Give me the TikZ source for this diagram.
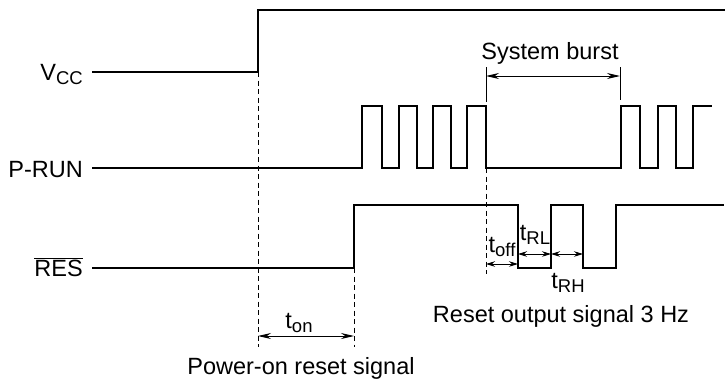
\documentclass[tikz,border=0pt]{standalone}
\usepackage{fontspec}
\setmainfont{Liberation Sans}
\usetikzlibrary{arrows.meta}
\newcommand\mysub[1]{\raisebox{-0.2em}{\fontsize{18.5}{18.5}\selectfont #1}}
\begin{document}
\begin{tikzpicture}[x=1pt,y=-1pt,
  wave/.style={line width=1.8pt, line join=miter},
  guide/.style={line width=0.8pt, dash pattern=on 5pt off 3.5pt},
  marker/.style={line width=1pt},
  dimbig/.style={line width=0.9pt, {Stealth[length=13pt,width=6pt]}-{Stealth[length=13pt,width=6pt]}},
  dimsmall/.style={line width=0.9pt, {Stealth[length=9pt,width=5.5pt]}-{Stealth[length=9pt,width=5.5pt]}},
  lbl/.style={font=\fontsize{23.5}{26}\selectfont, inner sep=0pt}]
\useasboundingbox (0,0) rectangle (728,384);
% signal names
\node[lbl, anchor=base east] (vcc) at (83,80) {V\mysub{CC}};
\node[lbl, anchor=base east] (prun) at (83,177) {P-RUN};
\node[lbl, anchor=base east] (res) at (83,276) {$\overline{\mbox{RES}}$};
% waveforms
\draw[wave] (92,72) -- (258,72) -- (258,10) -- (725,10);
\draw[wave] (92,168) -- (362,168) -- (362,106) -- (382,106) -- (382,168)
  -- (399,168) -- (399,106) -- (417,106) -- (417,168)
  -- (433,168) -- (433,106) -- (451,106) -- (451,168)
  -- (467,168) -- (467,106) -- (486,106) -- (486,168)
  -- (621,168) -- (621,106) -- (640,106) -- (640,168)
  -- (658,168) -- (658,106) -- (676,106) -- (676,168)
  -- (693,168) -- (693,106) -- (712,106);
\draw[wave] (92,268) -- (354,268) -- (354,205) -- (518,205) -- (518,268)
  -- (551,268) -- (551,205) -- (583,205) -- (583,268)
  -- (616,268) -- (616,205) -- (724,205);
% guides
\coordinate (g1a) at (258,72);  \coordinate (g1b) at (258,347);
\coordinate (g2a) at (354,268); \coordinate (g2b) at (354,347);
\coordinate (g3a) at (486,168); \coordinate (g3b) at (486,274);
\draw[guide] (g1a) -- (g1b);
\draw[guide] (g2a) -- (g2b);
\draw[guide] (g3a) -- (g3b);
% system burst
\coordinate (b1t) at (486,67); \coordinate (b1b) at (486,102);
\coordinate (b2t) at (620,67); \coordinate (b2b) at (620,100);
\draw[marker] (b1t) -- (b1b);
\draw[marker] (b2t) -- (b2b);
\coordinate (ba) at (486,76); \coordinate (bb) at (620,76);
\draw[dimbig] (ba) -- (bb);
\node[lbl, anchor=base] (burst) at (550,59) {System burst};
% t_on
\coordinate (ona) at (258,336); \coordinate (onb) at (354,336);
\draw[dimbig] (ona) -- (onb);
\node[lbl, anchor=base] (ton) at (299,328) {t\mysub{on}};
\node[lbl, anchor=base] (por) at (301,374) {Power-on reset signal};
% t_off, t_RL, t_RH
\coordinate (offa) at (486,264); \coordinate (offb) at (518,264);
\draw[dimsmall] (offa) -- (offb);
\node[lbl, anchor=base] (toff) at (502,252) {t\mysub{off}};
\coordinate (rla) at (518,254); \coordinate (rlb) at (551,254);
\draw[dimsmall] (rla) -- (rlb);
\node[lbl, anchor=base] (trl) at (535,240) {t\mysub{RL}};
\coordinate (rha) at (551,254); \coordinate (rhb) at (583,254);
\draw[dimsmall] (rha) -- (rhb);
\node[lbl, anchor=base] (trh) at (568,288) {t\mysub{RH}};
\node[lbl, anchor=base] (rout) at (561,322) {Reset output signal 3 Hz};
\end{tikzpicture}
\end{document}
